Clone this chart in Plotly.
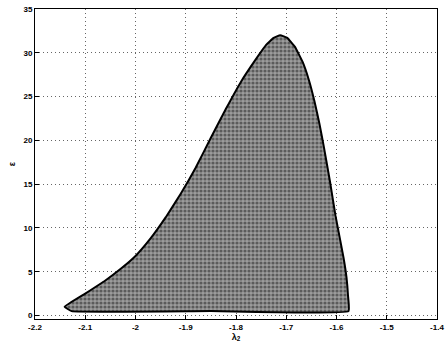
import plotly.graph_objects as go

# boundary of the region (lambda_2, epsilon), traced clockwise from bottom-left
lam2 = [-2.127, -2.141, -2.100, -2.060, -2.030, -2.000, -1.970, -1.940, -1.910,
        -1.880, -1.850, -1.820, -1.790, -1.760, -1.740, -1.725, -1.712, -1.698,
        -1.683, -1.667, -1.655, -1.644, -1.634, -1.625, -1.613, -1.602, -1.594,
        -1.586, -1.580, -1.577, -1.576, -1.850, -2.127]
eps = [0.5, 1.0, 2.5, 4.0, 5.3, 6.8, 8.8, 11.2, 13.9,
       16.9, 20.3, 23.6, 26.7, 29.3, 30.9, 31.7, 32.0, 31.7,
       30.7, 28.9, 26.9, 24.5, 21.9, 19.2, 15.3, 11.4, 9.0,
       6.6, 4.3, 2.2, 0.5, 0.5, 0.5]

xticks = [-2.2, -2.1, -2.0, -1.9, -1.8, -1.7, -1.6, -1.5, -1.4]
xticklabels = ["-2.2", "-2.1", "-2", "-1.9", "-1.8", "-1.7", "-1.6", "-1.5", "-1.4"]
yticks = [0, 5, 10, 15, 20, 25, 30, 35]
yticklabels = ["0", "5", "10", "15", "20", "25", "30", "35"]

fig = go.Figure()
fig.add_trace(go.Scatter(
    x=lam2, y=eps, mode="lines", fill="toself",
    line=dict(color="black", width=2, shape="spline", smoothing=0.3),
    fillcolor="#8a8a8a",
    fillpattern=dict(shape=".", bgcolor="#9c9c9c", fgcolor="#1a1a1a", size=4, solidity=0.5),
    hoverinfo="skip", showlegend=False,
))

axis_common = dict(
    showline=True, linecolor="black", linewidth=1, mirror=True,
    ticks="inside", ticklen=4, tickcolor="black",
    showgrid=True, gridcolor="#666666", griddash="1px,3px", gridwidth=1,
    zeroline=False, ticklabeloverflow="allow",
    tickfont=dict(family="Liberation Sans", size=8, color="black", weight="bold"),
)

fig.update_layout(
    width=448, height=354,
    margin=dict(l=35, r=4, t=9, b=35),
    paper_bgcolor="white", plot_bgcolor="white",
    font=dict(family="Liberation Sans", size=8, color="black"),
    xaxis=dict(range=[-2.2, -1.4], tickvals=xticks, ticktext=xticklabels,
               title=dict(text="λ<sub>2</sub>", standoff=2,
                          font=dict(family="Liberation Sans", size=9, weight="bold")),
               **axis_common),
    yaxis=dict(range=[-0.4, 35], tickvals=yticks, ticktext=yticklabels,
               title=dict(text="ε", standoff=6,
                          font=dict(family="Liberation Sans", size=9, weight="bold")),
               **axis_common),
)

fig.write_html("out.html")
